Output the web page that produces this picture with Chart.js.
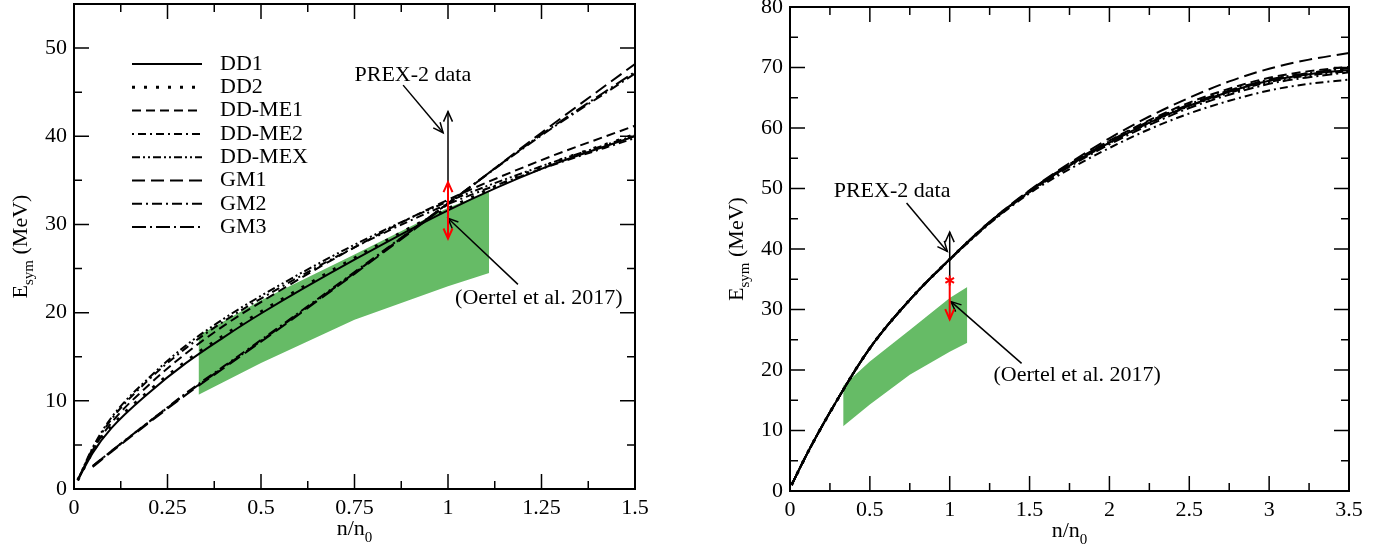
<!DOCTYPE html>
<html>
<head>
<meta charset="utf-8">
<script src="https://cdn.jsdelivr.net/npm/chart.js@4.4.0/dist/chart.umd.min.js"></script>
<style>
  html, body { margin: 0; padding: 0; background: #fff; }
  #wrap { position: relative; width: 1391px; height: 550px; }
  canvas { position: absolute; top: 0; }
</style>
</head>
<body>
<div id="wrap">
  <canvas id="left-chart" width="700" height="550" style="left:0"></canvas>
  <canvas id="right-chart" width="691" height="550" style="left:700px"></canvas>
</div>
<script>
// ---- data ----
const leftDDx   = [0.01, 0.05, 0.1, 0.2, 0.3, 0.4, 0.5, 0.75, 1.0, 1.25, 1.5]
const leftDD1   = [1.0, 4.1, 6.9, 10.9, 14.3, 17.2, 19.9, 26.0, 31.6, 36.3, 40.0]
const leftDD2   = [1.0, 4.2, 7.1, 11.1, 14.5, 17.4, 20.1, 26.2, 31.8, 36.5, 40.2]
const leftDDME1 = [1.0, 4.4, 7.5, 11.8, 15.4, 18.5, 21.2, 27.4, 32.8, 37.3, 41.2]
const leftDDME2 = [1.0, 4.6, 7.9, 12.4, 16.0, 19.0, 21.6, 27.4, 32.3, 36.3, 39.8]
const leftDDMEX = [1.0, 4.7, 8.1, 12.6, 16.3, 19.3, 21.9, 27.7, 32.6, 36.6, 40.1]

const leftGMx = [0.05, 0.1, 0.2, 0.3, 0.4, 0.5, 0.75, 1.0, 1.25, 1.5]
const leftGM1 = [2.5, 4.2, 7.5, 10.7, 13.7, 16.7, 24.4, 32.3, 40.4, 48.2]
const leftGM2 = [2.6, 4.3, 7.6, 10.9, 13.9, 16.9, 24.6, 32.4, 40.1, 47.1]
const leftGM3 = [2.6, 4.3, 7.6, 10.8, 13.8, 16.8, 24.5, 32.4, 40.2, 47.3]

const rightX     = [0.01, 0.1, 0.25, 0.5, 0.75, 1, 1.25, 1.5, 1.75, 2, 2.25, 2.5, 2.75, 3, 3.25, 3.5]
const rightDD1   = [1, 5.8, 13.0, 23.6, 31.6, 38.3, 44.4, 49.5, 53.8, 57.6, 60.9, 63.7, 66.0, 67.8, 68.9, 69.6]
const rightDD2   = [1, 5.8, 13.0, 23.6, 31.6, 38.3, 44.4, 49.5, 53.9, 57.7, 61.0, 63.8, 66.1, 67.9, 69.0, 69.8]
const rightDDME1 = [1, 5.8, 13.0, 23.6, 31.6, 38.3, 44.4, 49.6, 54.0, 57.9, 61.3, 64.2, 66.5, 68.3, 69.4, 70.1]
const rightDDME2 = [1, 5.8, 13.0, 23.6, 31.6, 38.2, 44.2, 49.2, 53.2, 56.7, 59.8, 62.4, 64.5, 66.2, 67.3, 68.0]
const rightDDMEX = [1, 5.8, 13.0, 23.6, 31.6, 38.3, 44.4, 49.5, 53.8, 57.5, 60.8, 63.6, 65.8, 67.6, 68.7, 69.4]
const rightGM1   = [1, 5.8, 13.0, 23.6, 31.6, 38.3, 44.5, 49.7, 54.2, 58.3, 61.9, 65.0, 67.7, 69.8, 71.3, 72.4]
const rightGM2   = [1, 5.8, 13.0, 23.6, 31.6, 38.3, 44.3, 49.4, 53.6, 57.3, 60.5, 63.3, 65.5, 67.3, 68.4, 69.2]
const rightGM3   = [1, 5.8, 13.0, 23.6, 31.6, 38.3, 44.4, 49.6, 54.0, 57.8, 61.1, 63.9, 66.2, 68.0, 69.1, 69.9]

// Oertel et al. 2017 band
const bandX    = [0.333, 0.5, 0.75, 1.0, 1.11]
const bandLow  = [10.7, 14.3, 19.2, 23.0, 24.5]
const bandHigh = [17.4, 21.4, 26.6, 31.9, 33.7]

// PREX-2 markers at n/n0 = 1
const prexX = 1.0
const prexBlack = [34.8, 42.8]
const prexRed = [28.4, 34.8]

// ---- styles ----
const FONT = "'Liberation Serif', 'Times New Roman', serif"
const dashes = {
  'DD1': [], 'DD2': [3, 9], 'DD-ME1': [9, 5], 'DD-ME2': [2, 4, 8, 4],
  'DD-MEX': [8, 3, 2, 3, 2, 3], 'GM1': [13, 6], 'GM2': [10, 4, 2, 4], 'GM3': [14, 4, 2, 4]
}
const widths = { 'DD2': 3 }
const bandColor = '#66bb66'

const pts = (xs, ys) => xs.map((x, i) => ({ x, y: ys[i] }))

function curveSets(list) {
  return list.map(([label, xs, ys]) => ({
    label,
    data: pts(xs, ys),
    borderColor: '#000',
    borderWidth: widths[label] || 2,
    borderDash: dashes[label],
    pointRadius: 0,
    fill: false,
    cubicInterpolationMode: 'monotone'
  }))
}

function bandSets() {
  return [
    { label: 'band-low', data: pts(bandX, bandLow), borderWidth: 0, pointRadius: 0, fill: false, tension: 0 },
    { label: 'band-high', data: pts(bandX, bandHigh), borderWidth: 0, pointRadius: 0, fill: '-1', tension: 0, backgroundColor: bandColor }
  ]
}

function arrow(ctx, x1, y1, x2, y2, color, both) {
  ctx.strokeStyle = color
  ctx.beginPath(); ctx.moveTo(x1, y1); ctx.lineTo(x2, y2); ctx.stroke()
  const ang = Math.atan2(y2 - y1, x2 - x1), L = 11, w = 0.42
  const head = (px, py, an) => {
    ctx.beginPath()
    ctx.moveTo(px - L * Math.cos(an - w), py - L * Math.sin(an - w))
    ctx.lineTo(px, py)
    ctx.lineTo(px - L * Math.cos(an + w), py - L * Math.sin(an + w))
    ctx.stroke()
  }
  head(x2, y2, ang)
  if (both) head(x1, y1, ang + Math.PI)
}

// frame, inward ticks, titles, legend and notes
const decor = {
  id: 'decor',
  afterDraw(chart, args, o) {
    const { ctx, chartArea: a, scales: { x, y } } = chart
    ctx.save()
    ctx.setLineDash([])
    ctx.strokeStyle = '#000'
    ctx.lineWidth = 1.5
    ctx.beginPath()
    for (let i = 0; ; i++) {
      const v = x.min + i * o.xStep / 2
      if (v > x.max + 1e-9) break
      const px = x.getPixelForValue(v), len = i % 2 === 0 ? 15 : 8
      ctx.moveTo(px, a.bottom); ctx.lineTo(px, a.bottom - len)
      ctx.moveTo(px, a.top); ctx.lineTo(px, a.top + len)
    }
    for (let i = 0; ; i++) {
      const v = y.min + i * o.yStep / 2
      if (v > y.max + 1e-9) break
      const py = y.getPixelForValue(v), len = i % 2 === 0 ? 15 : 8
      ctx.moveTo(a.left, py); ctx.lineTo(a.left + len, py)
      ctx.moveTo(a.right, py); ctx.lineTo(a.right - len, py)
    }
    ctx.stroke()
    ctx.lineWidth = 2
    ctx.strokeRect(a.left, a.top, a.right - a.left, a.bottom - a.top)

    const big = `22px ${FONT}`, small = `15px ${FONT}`
    ctx.fillStyle = '#000'
    ctx.textAlign = 'left'
    ctx.textBaseline = 'alphabetic'

    // x title n/n0
    ctx.font = big
    const wn = ctx.measureText('n/n').width
    ctx.font = small
    const w0 = ctx.measureText('0').width
    const tx = (a.left + a.right) / 2 - (wn + w0) / 2
    const ty = a.bottom + 46
    ctx.font = big; ctx.fillText('n/n', tx, ty)
    ctx.font = small; ctx.fillText('0', tx + wn, ty + 7)

    // y title E_sym (MeV)
    ctx.save()
    ctx.translate(a.left - 47, (a.top + a.bottom) / 2)
    ctx.rotate(-Math.PI / 2)
    ctx.font = big
    const wE = ctx.measureText('E').width, wM = ctx.measureText(' (MeV)').width
    ctx.font = small
    const wS = ctx.measureText('sym').width
    const x0 = -(wE + wS + wM) / 2
    ctx.font = big; ctx.fillText('E', x0, 0)
    ctx.font = small; ctx.fillText('sym', x0 + wE, 6)
    ctx.font = big; ctx.fillText(' (MeV)', x0 + wE + wS, 0)
    ctx.restore()

    // legend
    if (o.legend) {
      ctx.textBaseline = 'middle'
      ctx.font = big
      chart.data.datasets.filter(d => !d.label.startsWith('band')).forEach((d, i) => {
        const ly = 64 + i * 23.3
        ctx.lineWidth = d.borderWidth
        ctx.setLineDash(d.borderDash)
        ctx.beginPath(); ctx.moveTo(132, ly); ctx.lineTo(202, ly); ctx.stroke()
        ctx.setLineDash([])
        ctx.fillText(d.label, 220, ly)
      })
    }

    // notes
    ctx.textBaseline = 'middle'
    ctx.font = big
    o.notes.forEach(n => {
      ctx.textAlign = n.align
      ctx.fillText(n.text, x.getPixelForValue(n.x), y.getPixelForValue(n.y))
    })
    ctx.lineWidth = 1.5
    o.pointers.forEach(p => {
      arrow(ctx, x.getPixelForValue(p[0]), y.getPixelForValue(p[1]),
        x.getPixelForValue(p[2]), y.getPixelForValue(p[3]), '#000', false)
    })

    // PREX-2 vertical arrows
    const px = x.getPixelForValue(prexX)
    ctx.lineWidth = 1.5
    arrow(ctx, px, y.getPixelForValue(prexBlack[0]), px, y.getPixelForValue(prexBlack[1]), '#000', false)
    ctx.lineWidth = 2
    arrow(ctx, px, y.getPixelForValue(prexRed[1]), px, y.getPixelForValue(prexRed[0]), '#ff0000', o.redBoth)
    if (o.star) {
      const sy = y.getPixelForValue(prexRed[1])
      ctx.strokeStyle = '#ff0000'
      ctx.beginPath()
      for (let k = 0; k < 3; k++) {
        const an = Math.PI / 2 + k * Math.PI / 3
        ctx.moveTo(px - 5 * Math.cos(an), sy - 5 * Math.sin(an))
        ctx.lineTo(px + 5 * Math.cos(an), sy + 5 * Math.sin(an))
      }
      ctx.stroke()
    }
    ctx.restore()
  }
}

function panel(id, datasets, xMax, xStep, yMax, yStep, yWidth, xHeight, pad, deco) {
  const tickFont = { family: FONT, size: 22 }
  return new Chart(document.getElementById(id), {
    type: 'line',
    data: { datasets },
    plugins: [decor],
    options: {
      responsive: false,
      animation: false,
      devicePixelRatio: 1,
      layout: { padding: pad },
      plugins: { legend: { display: false }, tooltip: { enabled: false }, decor: deco },
      scales: {
        x: {
          type: 'linear', min: 0, max: xMax,
          grid: { display: false, drawTicks: false },
          border: { display: false },
          ticks: {
            stepSize: xStep, padding: 6, autoSkip: false, maxRotation: 0, includeBounds: false,
            font: tickFont, color: '#000', callback: v => String(Math.round(v * 1000) / 1000)
          },
          afterFit: s => { s.height = xHeight; s.paddingLeft = 0; s.paddingRight = 0 }
        },
        y: {
          type: 'linear', min: 0, max: yMax,
          grid: { display: false, drawTicks: false },
          border: { display: false },
          ticks: {
            stepSize: yStep, padding: 7, includeBounds: false,
            font: tickFont, color: '#000', callback: v => String(v)
          },
          afterFit: s => { s.width = yWidth; s.paddingTop = 0; s.paddingBottom = 0 }
        }
      }
    }
  })
}

try {
  panel('left-chart', [
    ...curveSets([
      ['DD1', leftDDx, leftDD1], ['DD2', leftDDx, leftDD2], ['DD-ME1', leftDDx, leftDDME1],
      ['DD-ME2', leftDDx, leftDDME2], ['DD-MEX', leftDDx, leftDDMEX],
      ['GM1', leftGMx, leftGM1], ['GM2', leftGMx, leftGM2], ['GM3', leftGMx, leftGM3]
    ]),
    ...bandSets()
  ], 1.5, 0.25, 55, 10, 74, 61, { top: 4, right: 65, left: 0, bottom: 0 }, {
    xStep: 0.25, yStep: 10, legend: true, redBoth: true, star: false,
    notes: [
      { text: 'PREX-2 data', x: 0.906, y: 46.9, align: 'center' },
      { text: '(Oertel et al. 2017)', x: 1.019, y: 21.6, align: 'left' }
    ],
    pointers: [[0.88, 45.8, 0.987, 40.4], [1.187, 23.2, 1.0, 30.7]]
  })

  panel('right-chart', [
    ...curveSets([
      ['DD1', rightX, rightDD1], ['DD2', rightX, rightDD2], ['DD-ME1', rightX, rightDDME1],
      ['DD-ME2', rightX, rightDDME2], ['DD-MEX', rightX, rightDDMEX],
      ['GM1', rightX, rightGM1], ['GM2', rightX, rightGM2], ['GM3', rightX, rightGM3]
    ]),
    ...bandSets()
  ], 3.5, 0.5, 80, 10, 90, 59, { top: 7, right: 42, left: 0, bottom: 0 }, {
    xStep: 0.5, yStep: 10, legend: false, redBoth: false, star: true,
    notes: [
      { text: 'PREX-2 data', x: 0.639, y: 49.5, align: 'center' },
      { text: '(Oertel et al. 2017)', x: 1.798, y: 19.2, align: 'center' }
    ],
    pointers: [[0.73, 47.6, 0.985, 39.6], [1.45, 21.1, 1.008, 31.3]]
  })
} catch (error) {
  console.error(`Chart render failed: ${error}`)
}
</script>
</body>
</html>
